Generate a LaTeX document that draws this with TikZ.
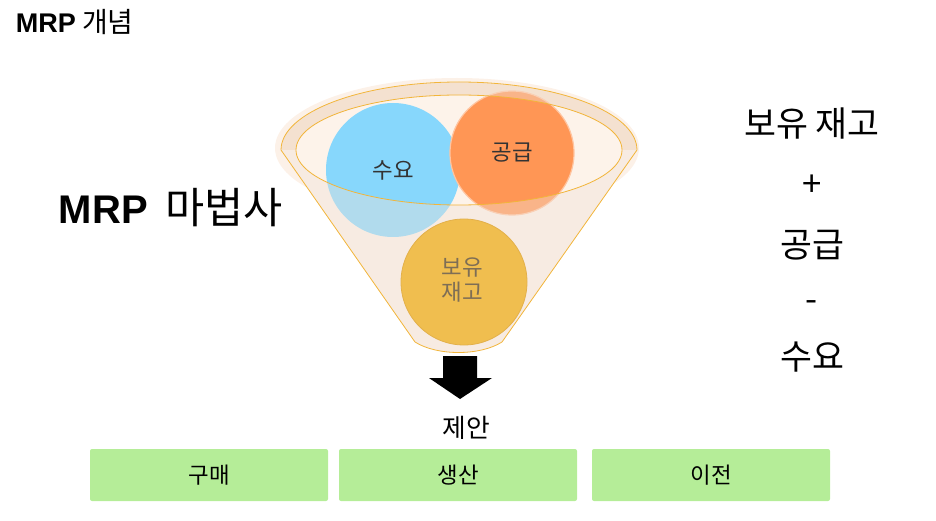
\documentclass[tikz,border=0pt]{standalone}
\usepackage{fontspec}
\setmainfont{Noto Sans CJK KR}[Scale=1.12]
\newfontfamily\latin{Liberation Sans}
\usetikzlibrary{positioning}
\definecolor{funnelfill}{HTML}{FDF3EA}
\definecolor{funnelband}{HTML}{F8E1CC}
\definecolor{funnelglow}{HTML}{F9E4D2}
\definecolor{funnelshade}{HTML}{F0E1D7}
\definecolor{funnelline}{HTML}{F2B53A}
\definecolor{demandblue}{HTML}{87D7FC}
\definecolor{supplyorange}{HTML}{FF9655}
\definecolor{stockyellow}{HTML}{F0BE4F}
\definecolor{stockedge}{HTML}{E3B04A}
\definecolor{stocktext}{HTML}{7E6E55}
\definecolor{optgreen}{HTML}{B5ED98}
\begin{document}
\begin{tikzpicture}[x=1pt,y=1pt,
    ball/.style={circle,minimum size=#1,inner sep=0pt},
    balltext/.style={font=\fontsize{20}{25}\selectfont,text=black!80},
    optbox/.style={fill=optgreen,rounded corners=2pt,minimum width=238pt,minimum height=52pt,font=\fontsize{20}{24}\selectfont},
    sumtext/.style={font=\fontsize{31}{36}\selectfont}]
    \useasboundingbox (0,0) rectangle (936,520);
    \node[anchor=west,font=\fontsize{25}{30}\selectfont] (title) at (12,498) {{\latin\fontsize{27}{30}\selectfont\bfseries MRP} 개념};
    \node[anchor=west,font=\fontsize{38}{46}\selectfont] (wizard) at (55,312) {{\latin\fontsize{40}{46}\selectfont\bfseries MRP}\hspace{8pt} 마법사};
    \fill[funnelglow,opacity=0.5] (457,372) ellipse (182 and 70);
    \fill[funnelfill] (281,370) arc[start angle=180,end angle=0,x radius=178,y radius=68] -- (502,178) .. controls (480,164) and (437,164) .. (415,178) -- cycle;
    \fill[funnelband] (281,370) arc[start angle=180,end angle=0,x radius=178,y radius=68] -- (622,370) arc[start angle=0,end angle=180,x radius=163,y radius=55] -- cycle;
    \node[ball=134pt,fill=demandblue] (demand) at (393,350) {};
    \node[ball=124pt,fill=supplyorange,draw=supplyorange!55!white,line width=1.2pt] (supply) at (512,367) {};
    \fill[funnelshade,opacity=0.4,even odd rule] (281,370) arc[start angle=180,end angle=0,x radius=178,y radius=68] -- (502,178) .. controls (480,164) and (437,164) .. (415,178) -- cycle (459,370) ellipse (163 and 55);
    \node[ball=126pt,fill=stockyellow,draw=stockedge,line width=0.8pt] (stock) at (464,238) {};
    \draw[funnelline,line width=0.8pt] (281,370) arc[start angle=180,end angle=0,x radius=178,y radius=68] -- (502,178) .. controls (480,164) and (437,164) .. (415,178) -- cycle;
    \draw[funnelline,line width=0.8pt] (459,370) ellipse (163 and 55);
    \node[balltext] at (demand) {수요};
    \node[balltext] at (supply) {공급};
    \node[balltext,text=stocktext,align=center] at (462,240) {보유\\재고};
    \fill (443,164) -- (477,164) -- (477,142) -- (492,142) -- (460,121) -- (429,142) -- (443,142) -- cycle;
    \node[font=\fontsize{23}{28}\selectfont] (propose) at (466,92) {제안};
    \node[optbox] (buy) at (209,45) {구매};
    \node[optbox] (make) at (458,45) {생산};
    \node[optbox] (move) at (711,45) {이전};
    \node[sumtext] (onhand) at (812,397) {보유 재고};
    \node[sumtext] (plus) at (812,334) {+};
    \node[sumtext] (incoming) at (812,275) {공급};
    \node[sumtext] (minus) at (812,214) {-};
    \node[sumtext] (needed) at (812,163) {수요};
\end{tikzpicture}
\end{document}
